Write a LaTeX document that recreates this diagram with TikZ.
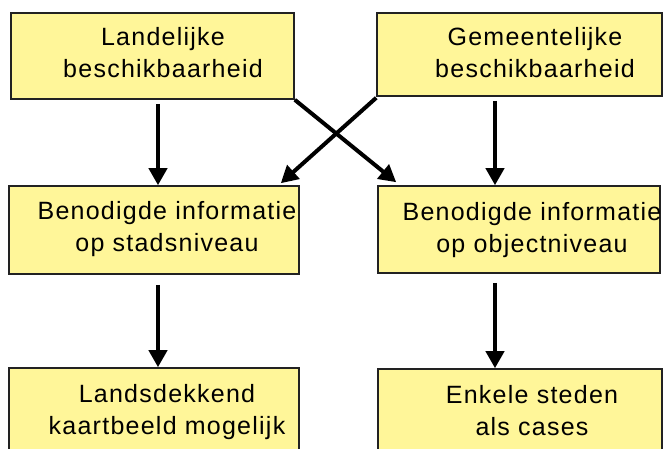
\documentclass[tikz,border=0pt]{standalone}
\usepackage{fontspec}
\setmainfont{Liberation Sans}[LetterSpace=5]
\usetikzlibrary{arrows.meta}

\definecolor{boxfill}{RGB}{255,246,153}
\definecolor{boxline}{RGB}{34,34,34}

\tikzset{
  stepbox/.style={draw=boxline, fill=boxfill, line width=1.6pt, inner sep=0pt},
  boxtext/.style={align=center, inner sep=0pt, font=\fontsize{25}{32}\selectfont},
  flow/.style={line width=4pt, -{Triangle[length=17pt,width=18pt]}},
}

\begin{document}
\begin{tikzpicture}[x=1pt, y=-1pt]
  \useasboundingbox (0,0) rectangle (663,448);

  % boxes
  \node[stepbox, minimum width=283pt, minimum height=86pt] (land) at (152.5,56) {};
  \node[stepbox, minimum width=285pt, minimum height=83pt] (gem)  at (519.5,54.5) {};
  \node[stepbox, minimum width=290pt, minimum height=88pt] (stad) at (154,230) {};
  \node[stepbox, minimum width=282pt, minimum height=87pt] (obj)  at (519,229.5) {};
  \node[stepbox, minimum width=290pt, minimum height=88pt] (kaart) at (154,412) {};
  \node[stepbox, minimum width=284pt, minimum height=88pt] (cases) at (520,413) {};

  % box texts
  \node[boxtext] (landT)  at (163,52.5) {Landelijke\\beschikbaarheid};
  \node[boxtext] (gemT)   at (535,52.5) {Gemeentelijke\\beschikbaarheid};
  \node[boxtext] (stadT)  at (167,229) {Benodigde informatie\\op stadsniveau};
  \node[boxtext] (objT)   at (532,230) {Benodigde informatie\\op objectniveau};
  \node[boxtext] (kaartT) at (167,412) {Landsdekkend\\kaartbeeld mogelijk};
  \node[boxtext] (casesT) at (532,410.5) {Enkele steden\\als cases};

  % straight arrows
  \draw[flow] ([shift={(5.5,4)}]land.south) -- ([xshift=4pt]stad.north);
  \draw[flow] ([shift={(-24.5,4)}]gem.south) -- ([xshift=-24pt]obj.north);
  \draw[flow] ([shift={(4,10)}]stad.south) -- ([xshift=4pt]kaart.north);
  \draw[flow] ([shift={(-24,9)}]obj.south) -- ([xshift=-25pt]cases.north);

  % crossing arrows
  \draw[flow] (land.south east) -- ([shift={(19,-3)}]obj.north west);
  \draw[flow] ([yshift=-1pt]gem.south west) -- ([shift={(-19,-2)}]stad.north east);
\end{tikzpicture}
\end{document}
